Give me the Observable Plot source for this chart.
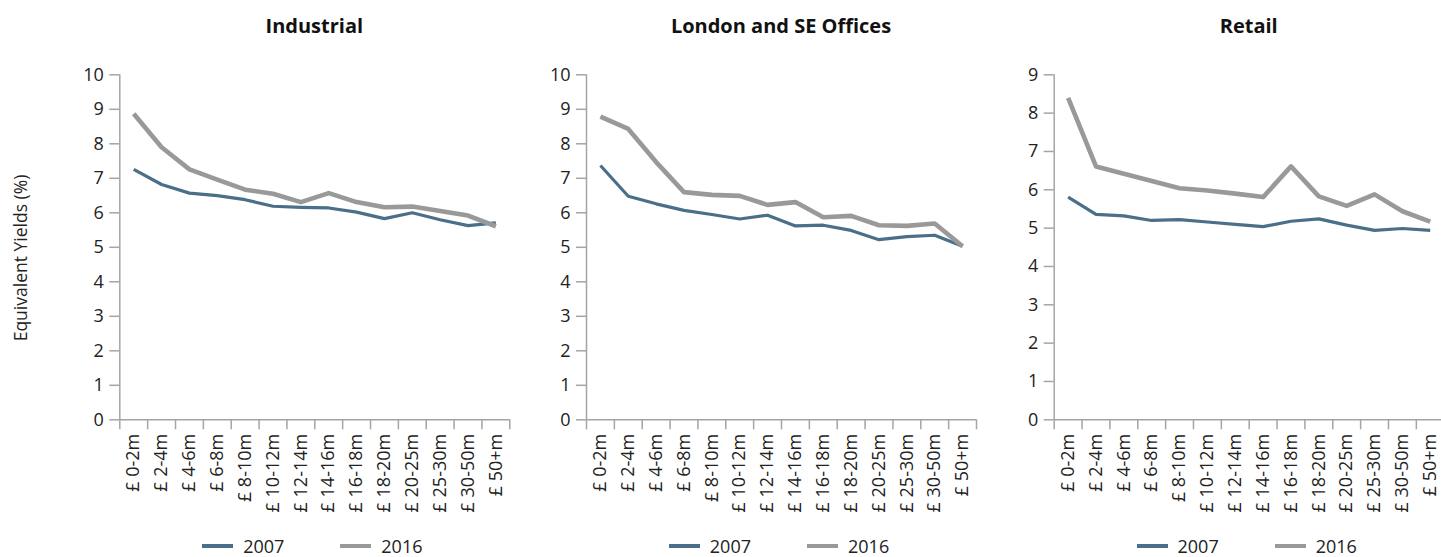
<!DOCTYPE html>
<html>
<head>
<meta charset="utf-8">
<script src="https://cdn.jsdelivr.net/npm/d3@7"></script>
<script src="https://cdn.jsdelivr.net/npm/@observablehq/plot@0.6"></script>
<style>
  html, body { margin: 0; padding: 0; background: #fff; overflow: hidden; }
  #root { position: relative; width: 1441px; height: 557px; overflow: hidden; font-family: "Open Sans", sans-serif; color: #222; }
  .panel { position: absolute; top: 0; }
  .title { position: absolute; top: 13px; width: 400px; margin-left: -200px; text-align: center; font-weight: 700; font-size: 20px; line-height: 26px; color: #111; }
  .ylabel { position: absolute; left: 20px; top: 258px; transform: translate(-50%, -50%) rotate(-90deg); white-space: nowrap; font-size: 17.5px; color: #222; }
  .legend { position: absolute; top: 537px; width: 400px; margin-left: -200px; display: flex; justify-content: center; align-items: center; font-size: 18px; line-height: 18px; color: #222; }
  .legend .item { display: flex; align-items: center; }
  .legend .item + .item { margin-left: 56px; }
  .legend .sw { display: inline-block; width: 31px; margin-right: 10px; }
</style>
</head>
<body>
<div id="root"></div>
<script>
const categories = ["£ 0-2m", "£ 2-4m", "£ 4-6m", "£ 6-8m", "£ 8-10m", "£ 10-12m", "£ 12-14m", "£ 14-16m", "£ 16-18m", "£ 18-20m", "£ 20-25m", "£ 25-30m", "£ 30-50m", "£ 50+m"];
const years = ["2007", "2016"];
const panelTitles = ["Industrial", "London and SE Offices", "Retail"];

const industrial2007 = [7.26, 6.82, 6.57, 6.50, 6.38, 6.19, 6.16, 6.14, 6.02, 5.83, 6.00, 5.80, 5.63, 5.71];
const industrial2016 = [8.87, 7.90, 7.26, 6.96, 6.67, 6.55, 6.31, 6.57, 6.31, 6.16, 6.18, 6.05, 5.92, 5.61];
const offices2007 = [7.37, 6.48, 6.26, 6.07, 5.95, 5.82, 5.93, 5.62, 5.64, 5.49, 5.22, 5.31, 5.35, 5.03];
const offices2016 = [8.79, 8.43, 7.47, 6.60, 6.52, 6.49, 6.23, 6.31, 5.87, 5.91, 5.64, 5.62, 5.69, 5.03];
const retail2007 = [5.81, 5.36, 5.32, 5.20, 5.22, 5.16, 5.10, 5.04, 5.18, 5.24, 5.08, 4.94, 4.99, 4.94];
const retail2016 = [8.40, 6.61, 6.42, 6.23, 6.04, 5.98, 5.90, 5.81, 6.61, 5.83, 5.58, 5.88, 5.44, 5.17];

const yMaxes = [10, 10, 9];
const yLabel = "Equivalent Yields (%)";

const colors = {"2007": "#4a6f89", "2016": "#999999"};
const widths = {"2007": 3.2, "2016": 4.6};
const axisColor = "#a5a5a5";

const series = [
  [industrial2007, industrial2016],
  [offices2007, offices2016],
  [retail2007, retail2016]
];

const layout = [
  {left: 60, x0: 119.3, x1: 509.3, width: 470},
  {left: 530, x0: 586, x1: 976, width: 470},
  {left: 1000, x0: 1053.7, x1: 1443.7, width: 450}
];
const top0 = 74.3, bottom0 = 419.3, H = 557;

const root = document.getElementById("root");

series.forEach((pair, p) => {
  const L = layout[p];
  const yMax = yMaxes[p];
  const rows = [];
  pair.forEach((vals, s) => vals.forEach((v, i) => rows.push({i, cat: categories[i], year: years[s], value: v})));

  const lineMarks = years.map(yr => Plot.line(rows.filter(r => r.year === yr), {
    x: "i", y: "value", stroke: colors[yr], strokeWidth: widths[yr], strokeLinejoin: "round", strokeLinecap: "butt"
  }));

  const chart = Plot.plot({
    width: L.width,
    height: H,
    marginLeft: L.x0 - L.left,
    marginRight: L.left + L.width - L.x1,
    marginTop: top0,
    marginBottom: H - bottom0,
    style: {fontFamily: "'Open Sans', sans-serif", fontSize: "18px", color: "#222", background: "transparent", overflow: "visible"},
    x: {domain: [-0.5, categories.length - 0.5]},
    y: {domain: [0, yMax]},
    marks: [
      Plot.ruleX([-0.5], {y1: 0, y2: yMax, stroke: axisColor, strokeWidth: 1.5}),
      Plot.ruleY([0], {x1: -0.5, x2: categories.length - 0.5, stroke: axisColor, strokeWidth: 1.5}),
      Plot.axisY({ticks: d3.range(0, yMax + 1), tickSize: 10, tickPadding: 6, stroke: axisColor, strokeWidth: 1.5, fontSize: 18, label: null}),
      Plot.axisX({ticks: d3.range(-0.5, categories.length, 1), tickSize: 10, tickFormat: () => "", stroke: axisColor, strokeWidth: 1.5, label: null}),
      Plot.axisX({ticks: d3.range(categories.length), tickSize: 0, tickPadding: 14, tickRotate: -90, tickFormat: i => categories[i], fontSize: 18, label: null}),
      ...lineMarks
    ]
  });
  chart.classList.add("panel");
  chart.style.left = L.left + "px";
  root.appendChild(chart);

  const cx = (L.x0 + L.x1) / 2;
  const t = document.createElement("div");
  t.className = "title";
  t.style.left = cx + "px";
  t.textContent = panelTitles[p];
  root.appendChild(t);

  const lg = document.createElement("div");
  lg.className = "legend";
  lg.style.left = (cx - 2) + "px";
  years.forEach(yr => {
    const it = document.createElement("span");
    it.className = "item";
    const sw = document.createElement("span");
    sw.className = "sw";
    sw.style.height = widths[yr] + "px";
    sw.style.background = colors[yr];
    it.appendChild(sw);
    const tx = document.createElement("span");
    tx.textContent = yr;
    it.appendChild(tx);
    lg.appendChild(it);
  });
  root.appendChild(lg);
});

const yl = document.createElement("div");
yl.className = "ylabel";
yl.textContent = yLabel;
root.appendChild(yl);
</script>
</body>
</html>
